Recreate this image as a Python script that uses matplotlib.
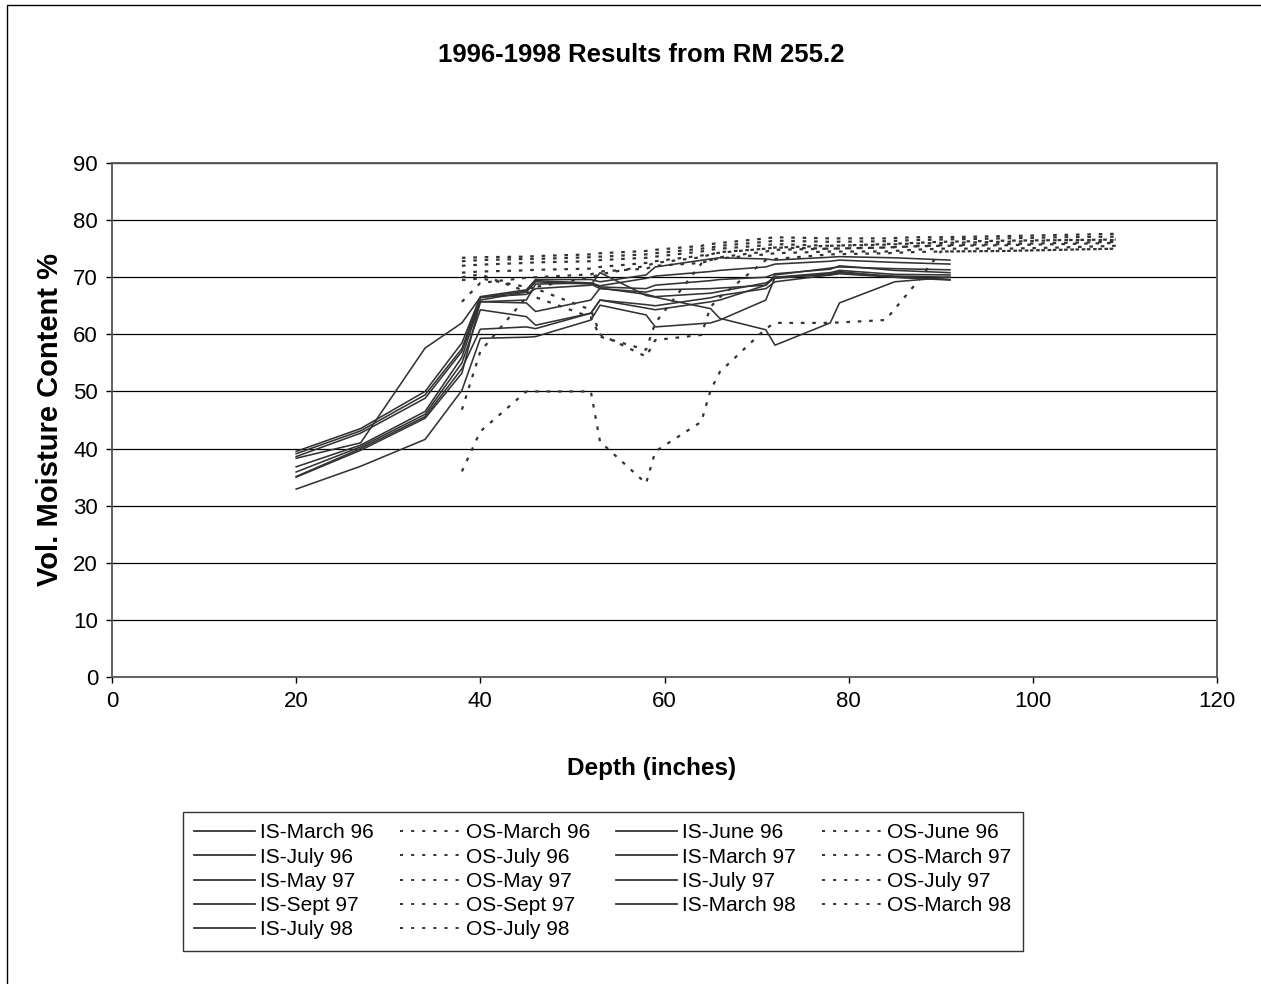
import matplotlib
matplotlib.use('Agg')
import matplotlib.pyplot as plt
from matplotlib.lines import Line2D
from matplotlib.patches import Rectangle

plt.rcParams['font.family'] = ['Liberation Sans Narrow', 'Liberation Sans', 'DejaVu Sans']
plt.rcParams['lines.scale_dashes'] = False

months = ['March 96', 'June 96', 'July 96', 'March 97', 'May 97',
          'July 97', 'Sept 97', 'March 98', 'July 98']

# inside-site probe readings (depth in inches, vol. moisture %)
depth_is = [20, 27, 34, 38, 40, 45, 46, 52, 53, 58, 59, 65, 66, 71, 72, 78, 79, 85, 91]
is_mar96 = [38.3, 41.0, 57.6, 62.0, 66.5, 67.0, 68.0, 68.6, 70.8, 66.8, 66.5, 64.5, 62.8, 60.8, 58.1, 62.0, 65.5, 69.2, 70.0]
is_jun96 = [39.5, 43.5, 50.0, 58.5, 66.6, 67.8, 69.6, 69.6, 69.2, 70.4, 71.8, 73.2, 73.4, 73.2, 73.0, 73.5, 73.6, 73.4, 73.0]
is_jul96 = [39.1, 43.1, 49.4, 57.5, 66.4, 67.6, 69.4, 69.0, 68.5, 69.8, 70.2, 71.0, 71.2, 71.8, 72.3, 72.8, 73.0, 72.6, 72.3]
is_mar97 = [38.6, 42.7, 48.8, 57.0, 66.0, 67.4, 69.2, 68.8, 68.0, 67.4, 67.8, 68.0, 68.1, 68.6, 70.4, 71.6, 71.8, 71.5, 71.3]
is_may97 = [36.8, 40.6, 46.5, 56.0, 65.7, 66.0, 68.8, 69.0, 68.3, 68.0, 68.6, 69.4, 69.6, 70.0, 70.6, 71.4, 72.0, 71.2, 70.8]
is_jul97 = [35.9, 40.3, 46.0, 55.0, 64.3, 63.1, 61.6, 63.7, 66.0, 64.6, 64.3, 65.7, 66.0, 68.6, 70.0, 70.8, 71.2, 70.5, 70.4]
is_sep97 = [35.1, 40.0, 45.6, 54.0, 60.9, 61.3, 61.0, 63.7, 66.0, 65.2, 65.0, 66.4, 66.8, 68.0, 69.2, 70.4, 70.8, 70.2, 70.0]
is_mar98 = [35.0, 39.7, 45.3, 53.2, 65.7, 65.5, 64.0, 66.0, 68.1, 67.0, 66.6, 67.2, 67.5, 69.0, 69.8, 70.6, 71.0, 70.0, 69.6]
is_jul98 = [32.9, 36.9, 41.6, 50.2, 59.3, 59.5, 59.6, 62.5, 65.1, 63.4, 61.3, 62.0, 62.5, 66.0, 70.0, 70.4, 70.6, 70.0, 69.5]

# outside-site probe readings
depth_os = [38, 40, 45, 46, 52, 53, 58, 59, 64, 65, 66, 71, 72, 78, 84, 87, 90, 97, 103, 109]
os_mar96 = [36.0, 43.0, 50.0, 50.0, 50.0, 41.2, 33.9, 39.5, 44.7, 50.2, 53.4, 61.0, 62.0, 62.0, 62.5, 68.3, 74.5, 74.6, 74.8, 75.0]
os_jun96 = [73.4, 73.5, 73.6, 73.7, 74.0, 74.2, 74.6, 74.8, 75.5, 75.8, 76.0, 76.8, 77.0, 76.8, 76.8, 77.0, 77.0, 77.2, 77.4, 77.6]
os_jul96 = [69.5, 69.8, 68.3, 68.0, 64.3, 60.0, 56.1, 59.0, 59.9, 64.8, 66.5, 73.0, 73.2, 74.0, 74.2, 74.4, 74.5, 74.6, 74.8, 75.0]
os_mar97 = [72.8, 73.0, 73.2, 73.2, 73.5, 73.6, 74.0, 74.2, 75.0, 75.2, 75.5, 76.2, 76.4, 76.2, 76.3, 76.5, 76.6, 76.8, 77.0, 77.1]
os_may97 = [70.0, 70.5, 67.5, 66.5, 63.0, 59.6, 57.3, 62.0, 72.4, 73.0, 73.5, 74.5, 74.8, 75.0, 75.2, 75.4, 75.5, 75.6, 75.8, 76.0]
os_jul97 = [72.0, 72.2, 72.5, 72.6, 72.8, 73.0, 73.4, 73.6, 74.5, 74.8, 75.0, 75.6, 75.8, 75.5, 75.7, 75.9, 76.0, 76.2, 76.5, 76.5]
os_sep97 = [46.8, 57.0, 66.5, 68.3, 70.0, 70.5, 72.0, 72.5, 73.5, 74.0, 74.3, 75.0, 75.2, 75.5, 75.8, 76.0, 76.2, 76.4, 76.5, 76.6]
os_mar98 = [65.7, 69.0, 69.9, 70.0, 70.5, 71.0, 71.5, 72.0, 72.5, 73.0, 73.3, 74.0, 74.2, 74.5, 74.5, 74.8, 75.0, 75.0, 75.2, 75.5]
os_jul98 = [70.8, 71.0, 71.2, 71.3, 71.5, 71.8, 72.5, 72.8, 73.8, 74.0, 74.4, 75.0, 75.2, 75.0, 75.2, 75.4, 75.6, 75.8, 76.0, 76.2]

is_all = [is_mar96, is_jun96, is_jul96, is_mar97, is_may97, is_jul97, is_sep97, is_mar98, is_jul98]
os_all = [os_mar96, os_jun96, os_jul96, os_mar97, os_may97, os_jul97, os_sep97, os_mar98, os_jul98]

W, H = 1261, 984
fig = plt.figure(figsize=(W / 100, H / 100), dpi=100)
ax = fig.add_axes([112 / W, 1 - 677 / H, (1217 - 112) / W, (677 - 163) / H])

col = '#333333'
os_dash = (0, (2.6, 5.6))
for v in os_all:
    ax.plot(depth_os, v, color=col, lw=1.6, linestyle=os_dash)
for v in is_all:
    ax.plot(depth_is, v, color=col, lw=1.15)

ax.set_xlim(0, 120)
ax.set_ylim(0, 90)
ax.set_xticks(range(0, 121, 20))
ax.set_yticks(range(0, 91, 10))
ax.yaxis.grid(True, color='black', lw=0.9)
ax.set_axisbelow(True)
ax.tick_params(labelsize=16, length=4, width=1, direction='out', pad=6)
for s in ax.spines.values():
    s.set_color('#555555')
    s.set_linewidth(1.3)

fig.text(641 / W, 1 - 55 / H, '1996-1998 Results from RM 255.2',
         ha='center', va='center', fontsize=18.5, fontweight='bold')
fig.text(652 / W, 1 - 768 / H, 'Depth (inches)',
         ha='center', va='center', fontsize=17.5, fontweight='bold')
fig.text(50 / W, 1 - 420 / H, 'Vol. Moisture Content %', rotation=90,
         ha='center', va='center', fontsize=21, fontweight='bold')

# legend filled row by row like the original (IS/OS pairs across)
entries = []
for m in months:
    entries.append((Line2D([], [], color=col, lw=1.3), 'IS-' + m))
    entries.append((Line2D([], [], color=col, lw=1.4, linestyle=(0, (2.2, 5.8))), 'OS-' + m))
ncol = 4
nrow = -(-len(entries) // ncol)
ordered = []
for c in range(ncol):
    for r in range(nrow):
        i = r * ncol + c
        if i < len(entries):
            ordered.append(entries[i])
leg = fig.legend([e[0] for e in ordered], [e[1] for e in ordered],
                 loc='upper left', ncol=ncol, mode='expand',
                 bbox_to_anchor=(183 / W, 1 - 950 / H, 840 / W, 138 / H),
                 fontsize=15, frameon=True, fancybox=False, borderaxespad=0,
                 handlelength=2.9, handletextpad=0.25, labelspacing=0.25,
                 borderpad=0.55, columnspacing=0.8)
leg.get_frame().set_edgecolor('black')
leg.get_frame().set_linewidth(1.0)

# chart area border
fig.patches.append(Rectangle((7 / W, -0.1), 1.2, 1 - 5 / H + 0.1, transform=fig.transFigure,
                             fill=False, edgecolor='black', lw=1.0))

fig.savefig('out.png', dpi=100)
